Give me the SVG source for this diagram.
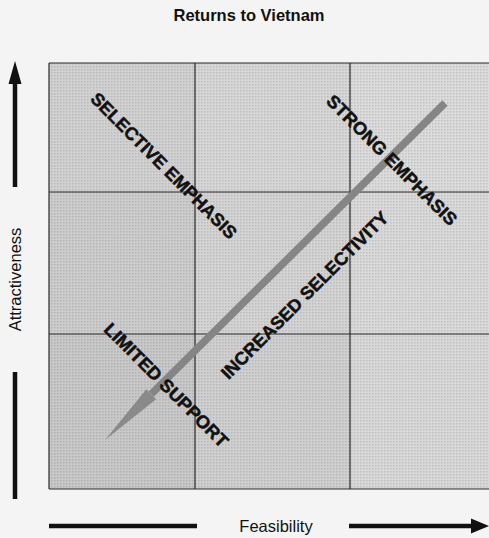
<svg xmlns="http://www.w3.org/2000/svg" width="489" height="538" viewBox="0 0 489 538">
<style>
.lbl{font-family:"Liberation Sans",Arial,sans-serif;fill:#111}
.diag{font-family:"Liberation Sans",Arial,sans-serif;font-weight:bold;font-size:18px;fill:#111;stroke:#111;stroke-width:0.5}
.grid{stroke:#2a2a2a;stroke-width:1.2;fill:none}
.axis{stroke:#111;stroke-width:4.5;fill:none}
</style>
<defs>
<pattern id="dots" width="3" height="3" patternUnits="userSpaceOnUse">
<rect x="0" y="0" width="1.5" height="1.5" fill="#000" fill-opacity="0.12"/>
</pattern>
</defs>
<rect width="489" height="538" fill="#f4f4f4"/>
<g id="title"><text class="lbl" x="249" y="21" font-size="16.5" font-weight="bold" text-anchor="middle">Returns to Vietnam</text></g>
<g id="matrix">
<rect x="49" y="63" width="146" height="129" fill="#d2d2d2"/>
<rect x="195" y="63" width="155" height="129" fill="#d7d7d7"/>
<rect x="350" y="63" width="139" height="129" fill="#dcdcdc"/>
<rect x="49" y="192" width="146" height="142" fill="#cdcdcd"/>
<rect x="195" y="192" width="155" height="142" fill="#d4d4d4"/>
<rect x="350" y="192" width="139" height="142" fill="#dadada"/>
<rect x="49" y="334" width="146" height="155" fill="#c9c9c9"/>
<rect x="195" y="334" width="155" height="155" fill="#d0d0d0"/>
<rect x="350" y="334" width="139" height="155" fill="#d9d9d9"/>
<rect x="49" y="63" width="440" height="426" fill="url(#dots)"/>
<path class="grid" d="M49,63H489M49,192H489M49,334H489M49,489H489M49,63V489M195,63V489M350,63V489"/>
</g>
<g id="connectors">
<line x1="445" y1="103" x2="151.2" y2="394.2" stroke="#858585" stroke-width="7.5"/>
<polygon points="156.1,399.2 105,440 146.3,389.2" fill="#8a8a8a"/>
</g>
<g id="selective-emphasis"><text class="diag" transform="translate(164,165.5) rotate(45)" y="6.5" text-anchor="middle" textLength="198" lengthAdjust="spacingAndGlyphs">SELECTIVE EMPHASIS</text></g>
<g id="strong-emphasis"><text class="diag" transform="translate(392,160) rotate(45)" y="6.5" text-anchor="middle" textLength="176" lengthAdjust="spacingAndGlyphs">STRONG EMPHASIS</text></g>
<g id="increased-selectivity"><text class="diag" transform="translate(304.5,295) rotate(-45)" y="6.5" text-anchor="middle" textLength="228" lengthAdjust="spacingAndGlyphs">INCREASED SELECTIVITY</text></g>
<g id="limited-support"><text class="diag" transform="translate(166.5,385) rotate(45)" y="6.5" text-anchor="middle" textLength="167" lengthAdjust="spacingAndGlyphs">LIMITED SUPPORT</text></g>
<g id="y-axis">
<line class="axis" x1="15" y1="80" x2="15" y2="187"/>
<polygon points="8.5,84 15,61 21.5,84" fill="#111"/>
<line class="axis" x1="15" y1="372" x2="15" y2="499"/>
<text class="lbl" transform="translate(21,279.5) rotate(-90)" font-size="16.5" text-anchor="middle">Attractiveness</text>
</g>
<g id="x-axis">
<line class="axis" x1="49" y1="526" x2="197" y2="526"/>
<line class="axis" x1="349" y1="526" x2="474" y2="526"/>
<polygon points="471,518.5 489,526 471,533.5" fill="#111"/>
<text class="lbl" x="276" y="531.5" font-size="16.5" text-anchor="middle">Feasibility</text>
</g>
</svg>
